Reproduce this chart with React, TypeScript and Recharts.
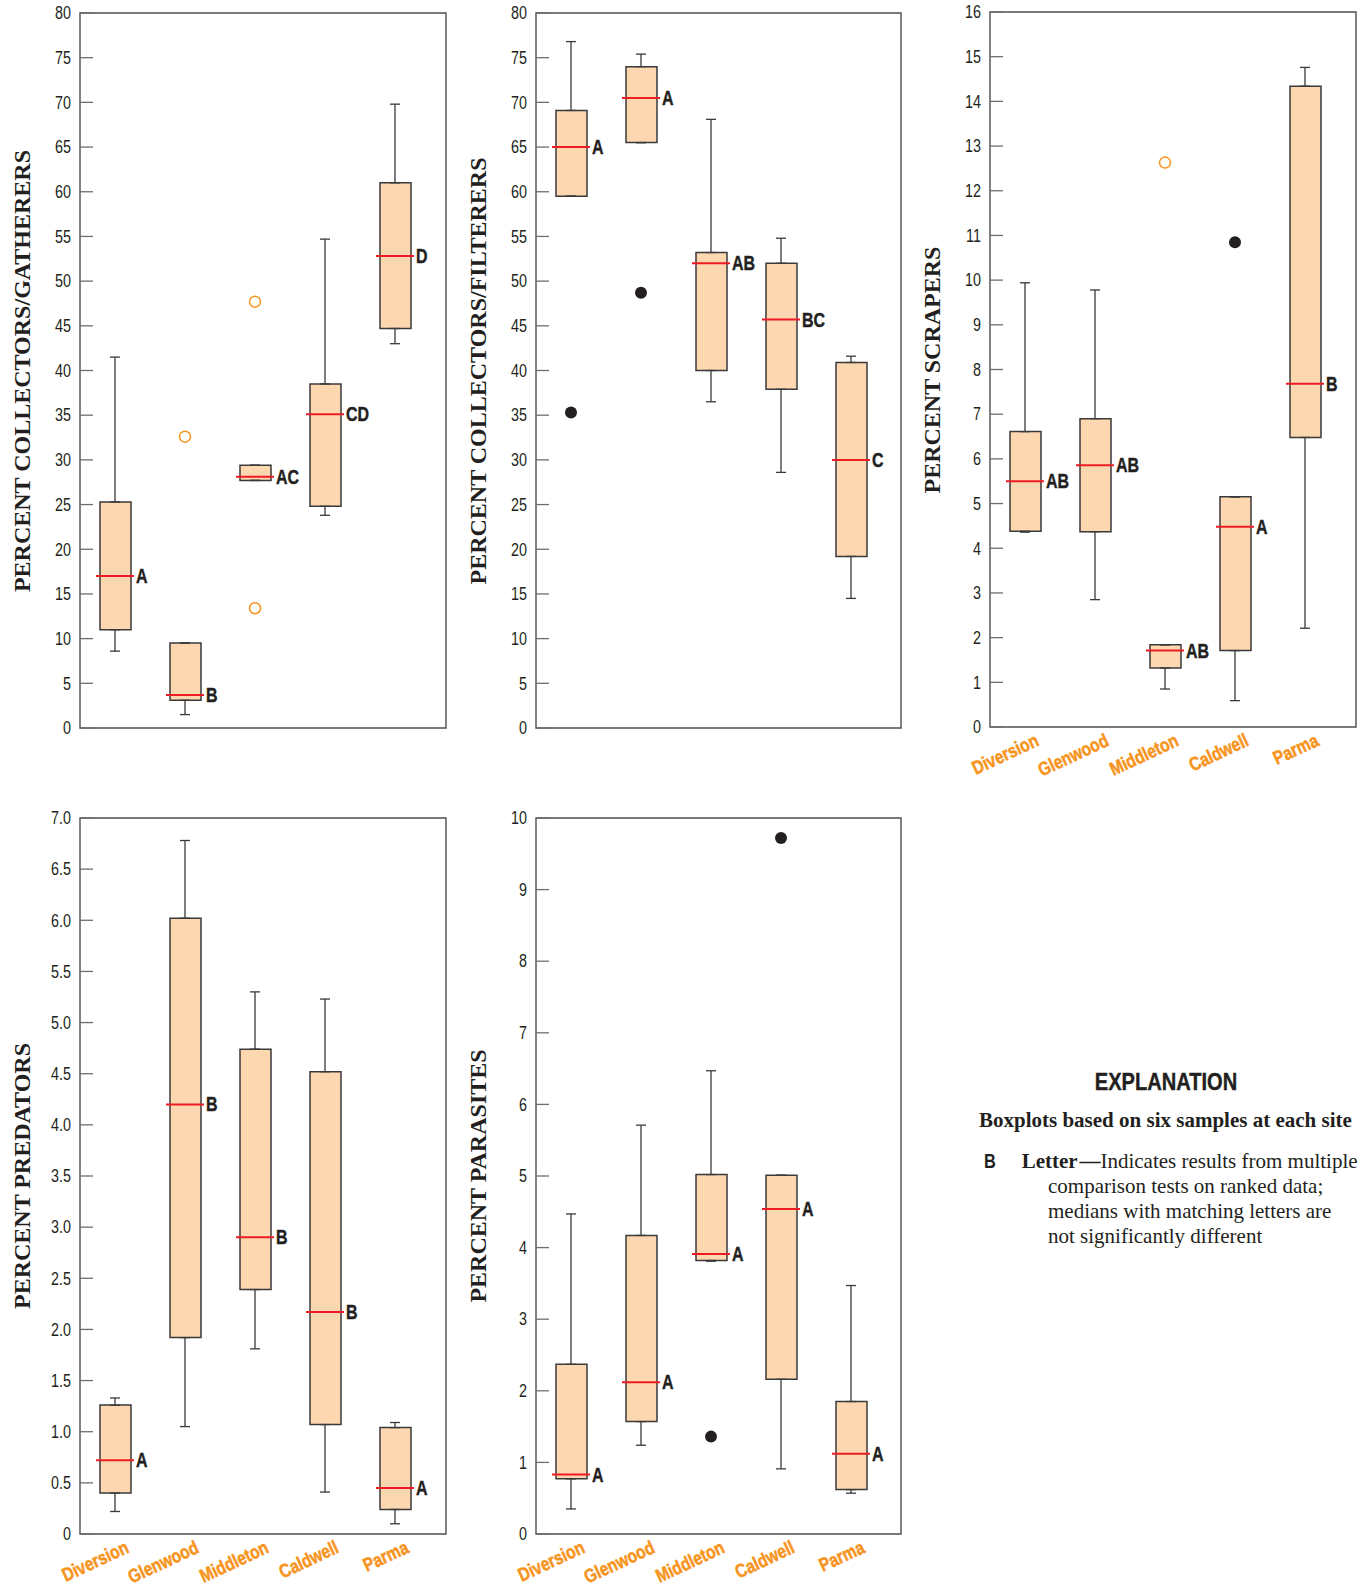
import React from "react";
import {
  ComposedChart,
  XAxis,
  YAxis,
  Bar,
  Scatter,
  ErrorBar,
  ReferenceArea,
} from "recharts";

const sites = ["Diversion", "Glenwood", "Middleton", "Caldwell", "Parma"];

// percent collectors/gatherers
const gathMin = [8.6, 1.5, 27.7, 23.8, 43.0];
const gathQ1 = [11.0, 3.1, 27.7, 24.8, 44.7];
const gathMed = [17.0, 3.7, 28.1, 35.1, 52.8];
const gathQ3 = [25.3, 9.5, 29.4, 38.5, 61.0];
const gathMax = [41.5, 9.5, 29.4, 54.7, 69.8];
const gathLetters = ["A", "B", "AC", "CD", "D"];
const gathOpen = [
  { site: "Glenwood", value: 32.6 },
  { site: "Middleton", value: 47.7 },
  { site: "Middleton", value: 13.4 },
];

// percent collectors/filterers
const filtMin = [59.5, 65.5, 36.5, 28.6, 14.5];
const filtQ1 = [59.5, 65.5, 40.0, 37.9, 19.2];
const filtMed = [65.0, 70.5, 52.0, 45.7, 30.0];
const filtQ3 = [69.1, 74.0, 53.2, 52.0, 40.9];
const filtMax = [76.8, 75.4, 68.1, 54.8, 41.6];
const filtLetters = ["A", "A", "AB", "BC", "C"];
const filtDots = [
  { site: "Diversion", value: 35.3 },
  { site: "Glenwood", value: 48.7 },
];

// percent scrapers
const scrMin = [4.36, 2.85, 0.85, 0.59, 2.21];
const scrQ1 = [4.38, 4.37, 1.32, 1.71, 6.48];
const scrMed = [5.5, 5.86, 1.71, 4.48, 7.68];
const scrQ3 = [6.61, 6.9, 1.84, 5.15, 14.34];
const scrMax = [9.94, 9.78, 1.84, 5.15, 14.76];
const scrLetters = ["AB", "AB", "AB", "A", "B"];
const scrOpen = [{ site: "Middleton", value: 12.63 }];
const scrDots = [{ site: "Caldwell", value: 10.85 }];

// percent predators
const predMin = [0.22, 1.05, 1.81, 0.41, 0.1];
const predQ1 = [0.4, 1.92, 2.39, 1.07, 0.24];
const predMed = [0.72, 4.2, 2.9, 2.17, 0.45];
const predQ3 = [1.26, 6.02, 4.74, 4.52, 1.04];
const predMax = [1.33, 6.78, 5.3, 5.23, 1.09];
const predLetters = ["A", "B", "B", "B", "A"];

// percent parasites
const parMin = [0.35, 1.24, 3.81, 0.91, 0.57];
const parQ1 = [0.77, 1.57, 3.82, 2.16, 0.62];
const parMed = [0.83, 2.12, 3.91, 4.54, 1.12];
const parQ3 = [2.37, 4.17, 5.02, 5.01, 1.85];
const parMax = [4.47, 5.71, 6.47, 5.01, 3.47];
const parLetters = ["A", "A", "A", "A", "A"];
const parDots = [
  { site: "Middleton", value: 1.36 },
  { site: "Caldwell", value: 9.72 },
];

const ticks80 = [0, 5, 10, 15, 20, 25, 30, 35, 40, 45, 50, 55, 60, 65, 70, 75, 80];
const ticks16 = [0, 1, 2, 3, 4, 5, 6, 7, 8, 9, 10, 11, 12, 13, 14, 15, 16];
const ticks7 = [0, 0.5, 1, 1.5, 2, 2.5, 3, 3.5, 4, 4.5, 5, 5.5, 6, 6.5, 7];
const ticks10 = [0, 1, 2, 3, 4, 5, 6, 7, 8, 9, 10];

// no narrow face installed, so Liberation Sans is squeezed horizontally
const SANS = "'Liberation Sans', Arial, sans-serif";
const NARROW = 0.82;
const SERIF = "'Liberation Serif', 'Times New Roman', serif";
const INK = "#231f20";
const ORANGE = "#f7941d";

function buildRows(
  min: number[],
  q1: number[],
  med: number[],
  q3: number[],
  max: number[],
  letters: string[]
) {
  return sites.map((s, i) => ({
    pos: i + 1,
    site: s,
    box: [q1[i], q3[i]],
    q1: q1[i],
    q3: q3[i],
    med: med[i],
    lowErr: [q1[i] - min[i], 0],
    highErr: [0, max[i] - q3[i]],
    letter: letters[i],
  }));
}

function toPoints(list: { site: string; value: number }[]) {
  return list.map((d) => ({ pos: sites.indexOf(d.site) + 1, value: d.value }));
}

const NarrowText = (props: any) => {
  const { x, y, children, ...rest } = props;
  return (
    <text
      x={x / NARROW}
      y={y}
      transform={`scale(${NARROW},1)`}
      fontFamily={SANS}
      fill={INK}
      {...rest}
    >
      {children}
    </text>
  );
};

const SiteTick = (props: any) => {
  const { x, y, payload } = props;
  const ax = x + 15;
  const ay = y + 18;
  return (
    <text
      x={0}
      y={0}
      transform={`translate(${ax},${ay}) rotate(-25) scale(${NARROW},1)`}
      textAnchor="end"
      fill={ORANGE}
      stroke={ORANGE}
      strokeWidth={0.5}
      fontSize={19}
      fontWeight="bold"
      fontFamily={SANS}
    >
      {sites[payload.value - 1]}
    </text>
  );
};

const ValueTick = (props: any) => {
  const { x, y, payload, tickFormatter } = props;
  const label = tickFormatter ? tickFormatter(payload.value) : String(payload.value);
  return (
    <NarrowText x={x} y={y} dy="0.36em" textAnchor="end" fontSize={17.5}>
      {label}
    </NarrowText>
  );
};

const MedianMark = (props: any) => {
  const { cx, cy, payload } = props;
  return (
    <g>
      <line x1={cx - 19} x2={cx + 19} y1={cy} y2={cy} stroke="#ed1c24" strokeWidth={2} />
      <NarrowText
        x={cx + 21}
        y={cy}
        dy="0.36em"
        fontSize={19.5}
        fontWeight="bold"
        stroke={INK}
        strokeWidth={0.4}
      >
        {payload.letter}
      </NarrowText>
    </g>
  );
};

const OpenCircle = (props: any) => (
  <circle cx={props.cx} cy={props.cy} r={5.5} fill="none" stroke={ORANGE} strokeWidth={1.5} />
);
const Dot = (props: any) => <circle cx={props.cx} cy={props.cy} r={6} fill={INK} />;
const Nothing = () => <g />;

type PanelProps = {
  title: string;
  plotLeft: number;
  plotTop: number;
  w: number;
  h: number;
  yMax: number;
  yTicks: number[];
  fmt?: (v: number) => string;
  rows: any[];
  open?: { pos: number; value: number }[];
  dots?: { pos: number; value: number }[];
  showSites: boolean;
};

function Panel(p: PanelProps) {
  const xDomain = [0.5, 0.5 + p.w / 70];
  const width = 80 + p.w + 2;
  const height = 13 + p.h + 72;
  const tickLine = { stroke: "#6d6e71", strokeWidth: 1.3 };
  return (
    <>
      <div
        style={{
          position: "absolute",
          left: p.plotLeft - 58.5,
          top: p.plotTop + p.h / 2,
          transform: "translate(-50%, -50%) rotate(-90deg)",
          whiteSpace: "nowrap",
          fontFamily: SERIF,
          fontWeight: "bold",
          fontSize: 24,
          lineHeight: 1,
          color: INK,
        }}
      >
        {p.title}
      </div>
      <div style={{ position: "absolute", left: p.plotLeft - 80, top: p.plotTop - 13 }}>
        <ComposedChart
          width={width}
          height={height}
          data={p.rows}
          margin={{ top: 13, right: 2, left: 20, bottom: 0 }}
        >
          <XAxis
            type="number"
            dataKey="pos"
            domain={xDomain}
            ticks={[1, 2, 3, 4, 5]}
            allowDataOverflow
            interval={0}
            axisLine={false}
            tickLine={false}
            tickSize={0}
            tickMargin={0}
            height={72}
            tick={p.showSites ? <SiteTick /> : false}
          />
          <YAxis
            type="number"
            domain={[0, p.yMax]}
            ticks={p.yTicks}
            allowDataOverflow
            interval={0}
            width={60}
            axisLine={false}
            tickSize={-13}
            tickMargin={22}
            tickLine={tickLine}
            tickFormatter={p.fmt}
            tick={<ValueTick tickFormatter={p.fmt} />}
          />
          <YAxis
            yAxisId="r"
            orientation="right"
            type="number"
            domain={[0, p.yMax]}
            ticks={p.yTicks}
            allowDataOverflow
            interval={0}
            width={0}
            axisLine={false}
            tick={false}
            tickSize={-13}
            tickLine={tickLine}
          />
          <ReferenceArea
            x1={xDomain[0]}
            x2={xDomain[1]}
            y1={0}
            y2={p.yMax}
            fill="none"
            stroke="#4d4d4f"
            strokeWidth={1.4}
            ifOverflow="visible"
          />
          <Scatter data={p.rows} dataKey="q1" shape={Nothing} isAnimationActive={false}>
            <ErrorBar
              dataKey="lowErr"
              direction="y"
              width={5}
              stroke="#3a3a3a"
              strokeWidth={1.3}
              isAnimationActive={false}
            />
          </Scatter>
          <Scatter data={p.rows} dataKey="q3" shape={Nothing} isAnimationActive={false}>
            <ErrorBar
              dataKey="highErr"
              direction="y"
              width={5}
              stroke="#3a3a3a"
              strokeWidth={1.3}
              isAnimationActive={false}
            />
          </Scatter>
          <Bar
            dataKey="box"
            barSize={31}
            fill="#fdd7b0"
            stroke="#3a3a3a"
            strokeWidth={1.5}
            isAnimationActive={false}
          />
          <Scatter data={p.rows} dataKey="med" shape={MedianMark} isAnimationActive={false} />
          {p.open && (
            <Scatter data={p.open} dataKey="value" shape={OpenCircle} isAnimationActive={false} />
          )}
          {p.dots && (
            <Scatter data={p.dots} dataKey="value" shape={Dot} isAnimationActive={false} />
          )}
        </ComposedChart>
      </div>
    </>
  );
}

function Explanation() {
  return (
    <svg
      width={428}
      height={230}
      style={{ position: "absolute", left: 940, top: 1040 }}
    >
      <NarrowText
        x={226}
        y={50}
        textAnchor="middle"
        fontWeight="bold"
        fontSize={24.5}
        stroke={INK}
        strokeWidth={0.4}
      >
        EXPLANATION
      </NarrowText>
      <text x={39} y={86.7} fontFamily={SERIF} fontWeight="bold" fontSize={21} fill={INK}>
        Boxplots based on six samples at each site
      </text>
      <NarrowText x={44} y={127.7} fontWeight="bold" fontSize={20}>
        B
      </NarrowText>
      <text x={81.7} y={127.7} fontFamily={SERIF} fontSize={21} fill={INK}>
        <tspan fontWeight="bold">{"Letter\u200a\u2014"}</tspan>
        <tspan>Indicates results from multiple</tspan>
      </text>
      <text x={108} y={153} fontFamily={SERIF} fontSize={21} fill={INK}>
        comparison tests on ranked data;
      </text>
      <text x={108} y={177.7} fontFamily={SERIF} fontSize={21} fill={INK}>
        medians with matching letters are
      </text>
      <text x={108} y={203} fontFamily={SERIF} fontSize={21} fill={INK}>
        not significantly different
      </text>
    </svg>
  );
}

const oneDecimal = (v: number) => (v === 0 ? "0" : v.toFixed(1));

export default function App() {
  return (
    <div
      style={{
        position: "absolute",
        left: 0,
        top: 0,
        width: 1368,
        height: 1595,
        background: "#fff",
        overflow: "hidden",
      }}
    >
      <Panel
        title="PERCENT COLLECTORS/GATHERERS"
        plotLeft={80}
        plotTop={13}
        w={366}
        h={715}
        yMax={80}
        yTicks={ticks80}
        rows={buildRows(gathMin, gathQ1, gathMed, gathQ3, gathMax, gathLetters)}
        open={toPoints(gathOpen)}
        showSites={false}
      />
      <Panel
        title="PERCENT COLLECTORS/FILTERERS"
        plotLeft={536}
        plotTop={13}
        w={365}
        h={715}
        yMax={80}
        yTicks={ticks80}
        rows={buildRows(filtMin, filtQ1, filtMed, filtQ3, filtMax, filtLetters)}
        dots={toPoints(filtDots)}
        showSites={false}
      />
      <Panel
        title="PERCENT SCRAPERS"
        plotLeft={990}
        plotTop={12}
        w={366}
        h={715}
        yMax={16}
        yTicks={ticks16}
        rows={buildRows(scrMin, scrQ1, scrMed, scrQ3, scrMax, scrLetters)}
        open={toPoints(scrOpen)}
        dots={toPoints(scrDots)}
        showSites={true}
      />
      <Panel
        title="PERCENT PREDATORS"
        plotLeft={80}
        plotTop={818}
        w={366}
        h={716}
        yMax={7}
        yTicks={ticks7}
        fmt={oneDecimal}
        rows={buildRows(predMin, predQ1, predMed, predQ3, predMax, predLetters)}
        showSites={true}
      />
      <Panel
        title="PERCENT PARASITES"
        plotLeft={536}
        plotTop={818}
        w={365}
        h={716}
        yMax={10}
        yTicks={ticks10}
        rows={buildRows(parMin, parQ1, parMed, parQ3, parMax, parLetters)}
        dots={toPoints(parDots)}
        showSites={true}
      />
      <Explanation />
    </div>
  );
}
